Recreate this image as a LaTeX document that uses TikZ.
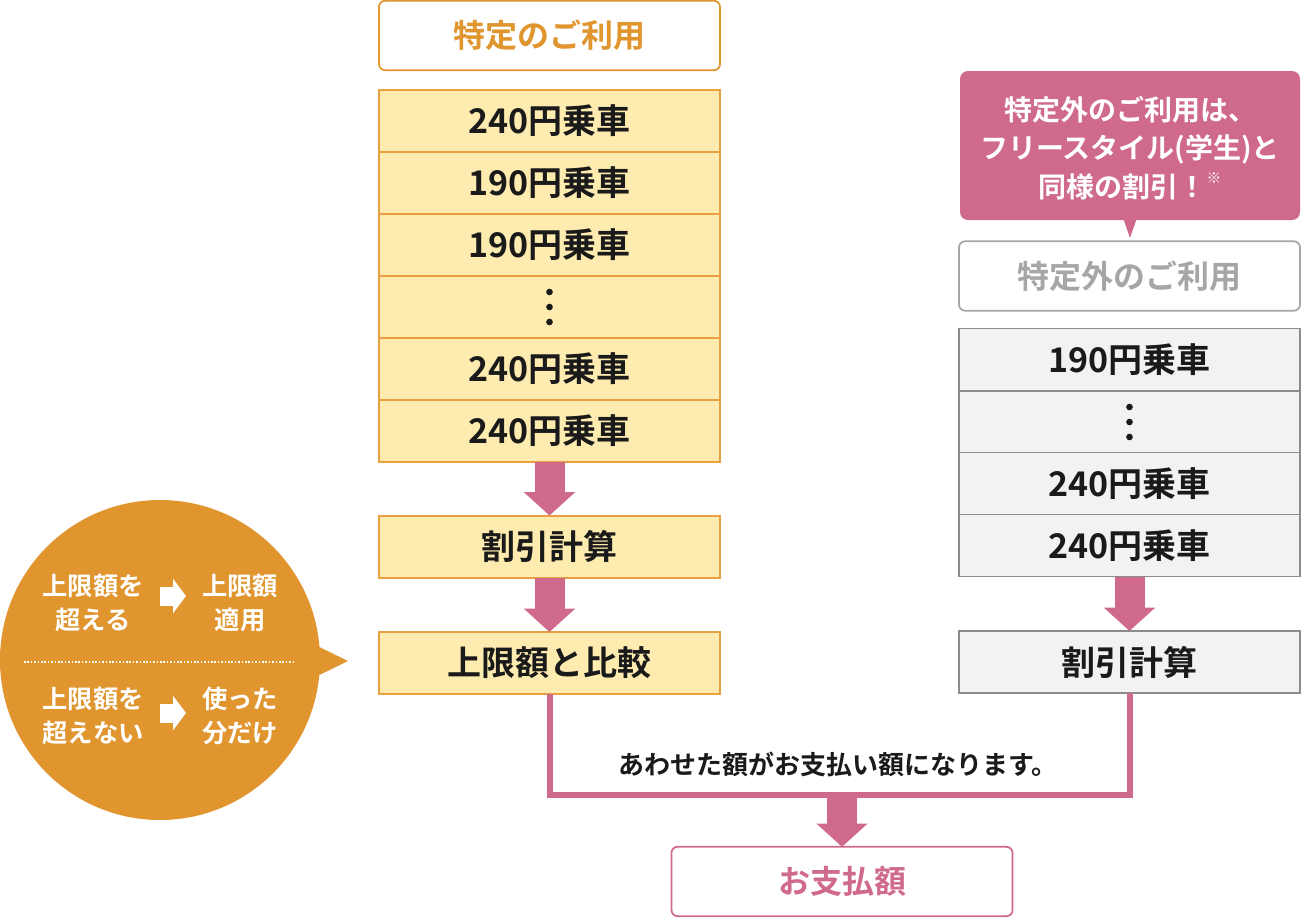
\documentclass[tikz,border=0pt]{standalone}
\usepackage{fontspec}
\setmainfont{Noto Sans CJK JP}[BoldFont={* Bold}]
\usetikzlibrary{arrows.meta,calc}
\definecolor{ora}{HTML}{E0952E}
\definecolor{oraline}{HTML}{E8A043}
\definecolor{yel}{HTML}{FDEBB0}
\definecolor{pnk}{HTML}{CF6A8A}
\definecolor{gryfill}{HTML}{F2F2F2}
\definecolor{gryline}{HTML}{8C8C8C}
\definecolor{grytext}{HTML}{A6A6A6}
\definecolor{txt}{HTML}{1A1A1A}
\begin{document}
\begin{tikzpicture}[x=0.75pt,y=-0.75pt,
  every node/.style={inner sep=0pt, outer sep=0pt},
  yrow/.style={draw=oraline, fill=yel, line width=1.5pt, minimum width=255.75pt, minimum height=46.5pt, text=txt, font=\bfseries\fontsize{25.5}{30}\selectfont},
  grayrow/.style={yrow, draw=gryline, fill=gryfill, line width=1.2pt},
  hdr/.style={draw=#1, line width=1.3pt, rounded corners=4.5pt, fill=white, minimum width=255.75pt, minimum height=52pt, text=#1, font=\bfseries\fontsize{24}{28}\selectfont},
  blockarrow/.style={draw=pnk, line width=22.5pt, -{Triangle[width=37.5pt,length=17.5pt]}},
  whitearrow/.style={draw=white, line width=14.25pt, -{Triangle[width=25.5pt,length=9.75pt]}},
  bubtext/.style={text=white, align=center, font=\bfseries\fontsize{19}{25}\selectfont},
  dotmark/.style={fill=txt}
]
\useasboundingbox (0,0) rectangle (1302,918);

% ---- left column ----
\node[hdr=ora] (h1) at (549.5,35.5) {特定のご利用};
\node[yrow] (r1) at (549.5,120.5) {240円乗車};
\node[yrow] (r2) at (549.5,182.5) {190円乗車};
\node[yrow] (r3) at (549.5,244.5) {190円乗車};
\node[yrow] (r4) at (549.5,307) {};
\node[yrow] (r5) at (549.5,368.5) {240円乗車};
\node[yrow] (r6) at (549.5,430.5) {240円乗車};
\foreach \d in {-15,0,15} \fill[dotmark] ($(r4.center)+(0,\d)$) circle (2.5pt);
\node[yrow] (c1) at (549.5,546.5) {割引計算};
\node[yrow] (cmp) at (549.5,663) {上限額と比較};
\draw[blockarrow] (r6.south) -- (c1.north);
\draw[blockarrow] (c1.south) -- (cmp.north);

% ---- right column ----
\node[fill=pnk, rounded corners=6pt, minimum width=255pt, minimum height=111.75pt] (call) at (1130,145.5) {};
\fill[pnk] (1122,215) -- (1138,215) -- (1130,238) -- cycle;
\node[text=white, align=center, font=\bfseries\fontsize{21}{29}\selectfont] (calltext) at (1130,148)
  {特定外のご利用は、\\フリースタイル(学生)と\\同様の割引！\raisebox{0.5em}{\fontsize{11}{11}\selectfont ※}};
\node[hdr=grytext] (h2) at (1129.5,276) {特定外のご利用};
\node[grayrow] (g1) at (1129.5,359.5) {190円乗車};
\node[grayrow] (g2) at (1129.5,422) {};
\node[grayrow] (g3) at (1129.5,483.5) {240円乗車};
\node[grayrow] (g4) at (1129.5,545.5) {240円乗車};
\foreach \d in {-15,0,15} \fill[dotmark] ($(g2.center)+(0,\d)$) circle (2.5pt);
\node[grayrow] (c2) at (1129.5,662) {割引計算};
\draw[blockarrow] (g4.south) -- (c2.north);

% ---- merge ----
\coordinate (j) at (842,795);
\draw[pnk, line width=4.5pt, line join=miter] (cmp.south) -- (cmp.south |- j) -- (c2.south |- j) -- (c2.south);
\node[text=txt, font=\bfseries\fontsize{19.5}{22}\selectfont] (note) at (838,764) {あわせた額がお支払い額になります。};
\node[hdr=pnk] (pay) at (842,881.5) {お支払額};
\draw[blockarrow] (j) -- (pay.north);

% ---- bubble ----
\node[circle, fill=ora, minimum size=240pt] (bub) at (160,660) {};
\fill[ora] (305,640) -- (348,661) -- (305,682) -- cycle;
\draw[white, line width=1.1pt, dash pattern=on 1.2pt off 1.35pt] (24,662) -- (293,662);
\node[bubtext] (a1) at (93,603) {上限額を\\超える};
\node[bubtext] (b1) at (240,603) {上限額\\適用};
\node[bubtext] (a2) at (93,716) {上限額を\\超えない};
\node[bubtext] (b2) at (240,716) {使った\\分だけ};
\coordinate (ar1s) at (160,596); \coordinate (ar1e) at (186,596);
\coordinate (ar2s) at (160,713); \coordinate (ar2e) at (186,713);
\draw[whitearrow] (ar1s) -- (ar1e);
\draw[whitearrow] (ar2s) -- (ar2e);
\end{tikzpicture}
\end{document}
